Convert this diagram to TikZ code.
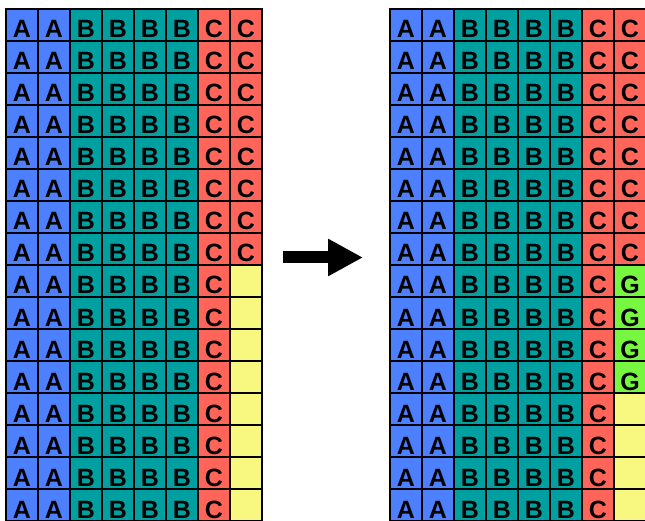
\documentclass[tikz,border=0pt]{standalone}
\usepackage{fontspec}
\setmainfont{Liberation Sans}
\usetikzlibrary{arrows.meta}
\definecolor{cellA}{HTML}{4D80FF}
\definecolor{cellB}{HTML}{00A0A0}
\definecolor{cellC}{HTML}{FF6659}
\definecolor{cellE}{HTML}{F8F880}
\definecolor{cellG}{HTML}{77F740}
\tikzset{
  cell/.style={rectangle, draw=black, line width=2pt, minimum width=32pt,
    minimum height=32pt, inner sep=0pt, outer sep=0pt},
  ca/.style={fill=cellA}, cb/.style={fill=cellB}, cc/.style={fill=cellC},
  ce/.style={fill=cellE}, cg/.style={fill=cellG},
  letter/.style={anchor=base, inner sep=0pt,
    font=\fontsize{25}{25}\selectfont\bfseries},
  bigarrow/.style={line width=12pt, -{Triangle[length=35pt,width=35pt]}}
}
\begin{document}
\begin{tikzpicture}[x=1pt,y=-1pt]
\useasboundingbox (0,0) rectangle (645,521);
\clip (0,0) rectangle (645,521);
% columns 0-6 are the same in both grids
\foreach \gx/\g in {6/L,390/R} {
  \foreach \r in {0,...,15} {
    \foreach \c/\t/\s in {0/A/ca,1/A/ca,2/B/cb,3/B/cb,4/B/cb,5/B/cb,6/C/cc} {
      \node[cell,\s] (\g-\r-\c) at ({\gx+32*\c+16}, {9+32*\r+16}) {};
      \node[letter] at ([yshift=3pt]\g-\r-\c.south) {\t};
    }
  }
}
% last column: C on top, then free (yellow) or G (green)
\foreach \gx/\g in {6/L,390/R} {
  \foreach \r in {0,...,7} {
    \node[cell,cc] (\g-\r-7) at ({\gx+32*7+16}, {9+32*\r+16}) {};
    \node[letter] at ([yshift=3pt]\g-\r-7.south) {C};
  }
}
\foreach \r in {8,...,15} {
  \node[cell,ce] (L-\r-7) at ({6+32*7+16}, {9+32*\r+16}) {};
}
\foreach \r in {8,...,11} {
  \node[cell,cg] (R-\r-7) at ({390+32*7+16}, {9+32*\r+16}) {};
  \node[letter] at ([yshift=3pt]R-\r-7.south) {G};
}
\foreach \r in {12,...,15} {
  \node[cell,ce] (R-\r-7) at ({390+32*7+16}, {9+32*\r+16}) {};
}
% block arrow between the grids
\coordinate (arrowtail) at (283,257.5);
\coordinate (arrowtip) at (363,257.5);
\draw[bigarrow] (arrowtail) -- (arrowtip);
\end{tikzpicture}
\end{document}
